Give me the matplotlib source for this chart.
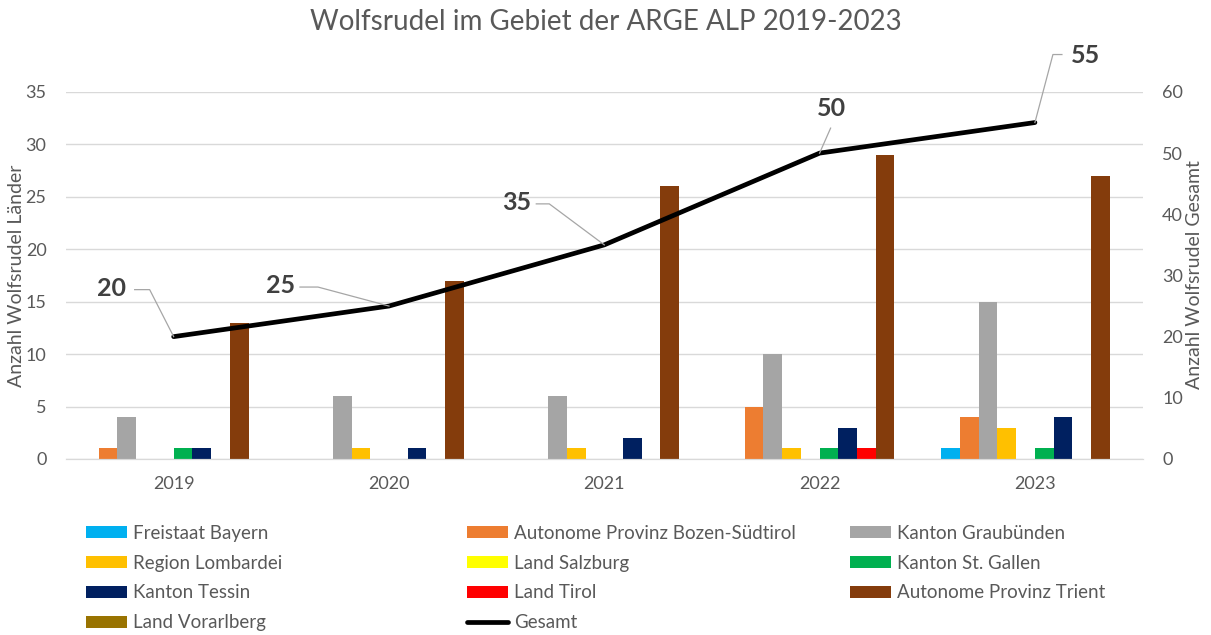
import matplotlib.pyplot as plt
import numpy as np
from matplotlib.lines import Line2D
from matplotlib.transforms import IdentityTransform

plt.rcParams["font.family"] = ["Lato", "DejaVu Sans"]

years = ["2019", "2020", "2021", "2022", "2023"]
regions = [
    "Freistaat Bayern",
    "Autonome Provinz Bozen-Südtirol",
    "Kanton Graubünden",
    "Region Lombardei",
    "Land Salzburg",
    "Kanton St. Gallen",
    "Kanton Tessin",
    "Land Tirol",
    "Autonome Provinz Trient",
    "Land Vorarlberg",
]
bayern = [0, 0, 0, 0, 1]
bozen = [1, 0, 0, 5, 4]
graubuenden = [4, 6, 6, 10, 15]
lombardei = [0, 1, 1, 1, 3]
salzburg = [0, 0, 0, 0, 0]
st_gallen = [1, 0, 0, 1, 1]
tessin = [1, 1, 2, 3, 4]
tirol = [0, 0, 0, 1, 0]
trient = [13, 17, 26, 29, 27]
vorarlberg = [0, 0, 0, 0, 0]
gesamt = [20, 25, 35, 50, 55]

colors = ["#00B0F0", "#ED7D31", "#A5A5A5", "#FFC000", "#FFFF00",
          "#00B050", "#002060", "#FF0000", "#843C0C", "#997300"]

series = [bayern, bozen, graubuenden, lombardei, salzburg,
          st_gallen, tessin, tirol, trient, vorarlberg]

grey = "#595959"
grid_c = "#D9D9D9"

fig = plt.figure(figsize=(12.11, 6.35), dpi=100)
ax = fig.add_axes([0.0545, 0.2772, 0.889, 0.578])
ax2 = ax.twinx()

x = np.arange(len(years))
n = len(series)
w = 1.0 / (n + 1.5)
handles = []
for i, (vals, c, name) in enumerate(zip(series, colors, regions)):
    off = (i - (n - 1) / 2) * w
    b = ax.bar(x + off, vals, width=w, color=c, label=name, zorder=2)
    handles.append(b)

ln, = ax2.plot(x, gesamt, color="black", lw=3.4, label="Gesamt",
               solid_capstyle="round", solid_joinstyle="round", zorder=5)

ax.set_xlim(-0.5, len(years) - 0.5)
ax.set_ylim(0, 35)
ax2.set_ylim(0, 60)
ax.set_yticks(range(0, 36, 5))
ax2.set_yticks(range(0, 61, 10))
ax.set_xticks(x)
ax.set_xticklabels(years)

ax.grid(axis="y", color=grid_c, lw=1, zorder=0)
ax.set_axisbelow(True)
for a in (ax, ax2):
    for s in ("top", "left", "right"):
        a.spines[s].set_visible(False)
    a.spines["bottom"].set_color(grid_c)
    a.tick_params(length=0, colors=grey, labelsize=13)
ax.tick_params(axis="y", pad=14)
ax2.tick_params(axis="y", pad=14)
ax.tick_params(axis="x", pad=12)

fig.text(17 / 1211, 1 - 276 / 635, "Anzahl Wolfsrudel Länder", rotation=90,
         ha="center", va="center", color=grey, fontsize=14)
fig.text(1195 / 1211, 1 - 275 / 635, "Anzahl Wolfsrudel Gesamt", rotation=90,
         ha="center", va="center", color=grey, fontsize=14)

fig.text(0.5, 1 - 22 / 635, "Wolfsrudel im Gebiet der ARGE ALP 2019-2023",
         ha="center", va="center", fontsize=20, color=grey)

# data labels with leader lines; offsets in pixels relative to the point
# (label dx, dy, knee dx, dy, horizontal end dx, dy)
label_layout = [
    ((-62, 48), (-24, 47), (-39, 47)),
    ((-108, 21), (-71, 19), (-89, 19)),
    ((-88, 42), (-55, 41), (-68, 41)),
    ((12, 45), (11, 25), (11, 25)),
    ((51, 67), (18, 68), (27, 68)),
]
for xi, v, (lab, knee, end) in zip(x, gesamt, label_layout):
    ax2.annotate(str(v), xy=(xi, v), xytext=lab, textcoords="offset pixels",
                 ha="center", va="center", fontsize=18, fontweight="bold",
                 color="#404040")
    px, py = ax2.transData.transform((xi, v))
    leader = Line2D([px, px + knee[0], px + end[0]],
                    [py, py + knee[1], py + end[1]],
                    transform=IdentityTransform(), color="#A6A6A6", lw=0.9)
    fig.add_artist(leader)

# legend: three columns placed by hand
hs = handles + [ln]
labels = regions + ["Gesamt"]
columns = [[0, 3, 6, 9], [1, 4, 7, 10], [2, 5, 8]]
col_x = [86, 467, 850]
for idx, cx in zip(columns, col_x):
    leg = fig.legend([hs[i] for i in idx], [labels[i] for i in idx],
                     loc="upper left", bbox_to_anchor=(cx / 1211, 1 - 525 / 635),
                     ncol=1, frameon=False, fontsize=13.5, handlelength=2.2,
                     handleheight=0.6, handletextpad=0.32, labelspacing=0.68,
                     borderaxespad=0, borderpad=0)
    for t in leg.get_texts():
        t.set_color(grey)

fig.savefig("out.png", dpi=100)
